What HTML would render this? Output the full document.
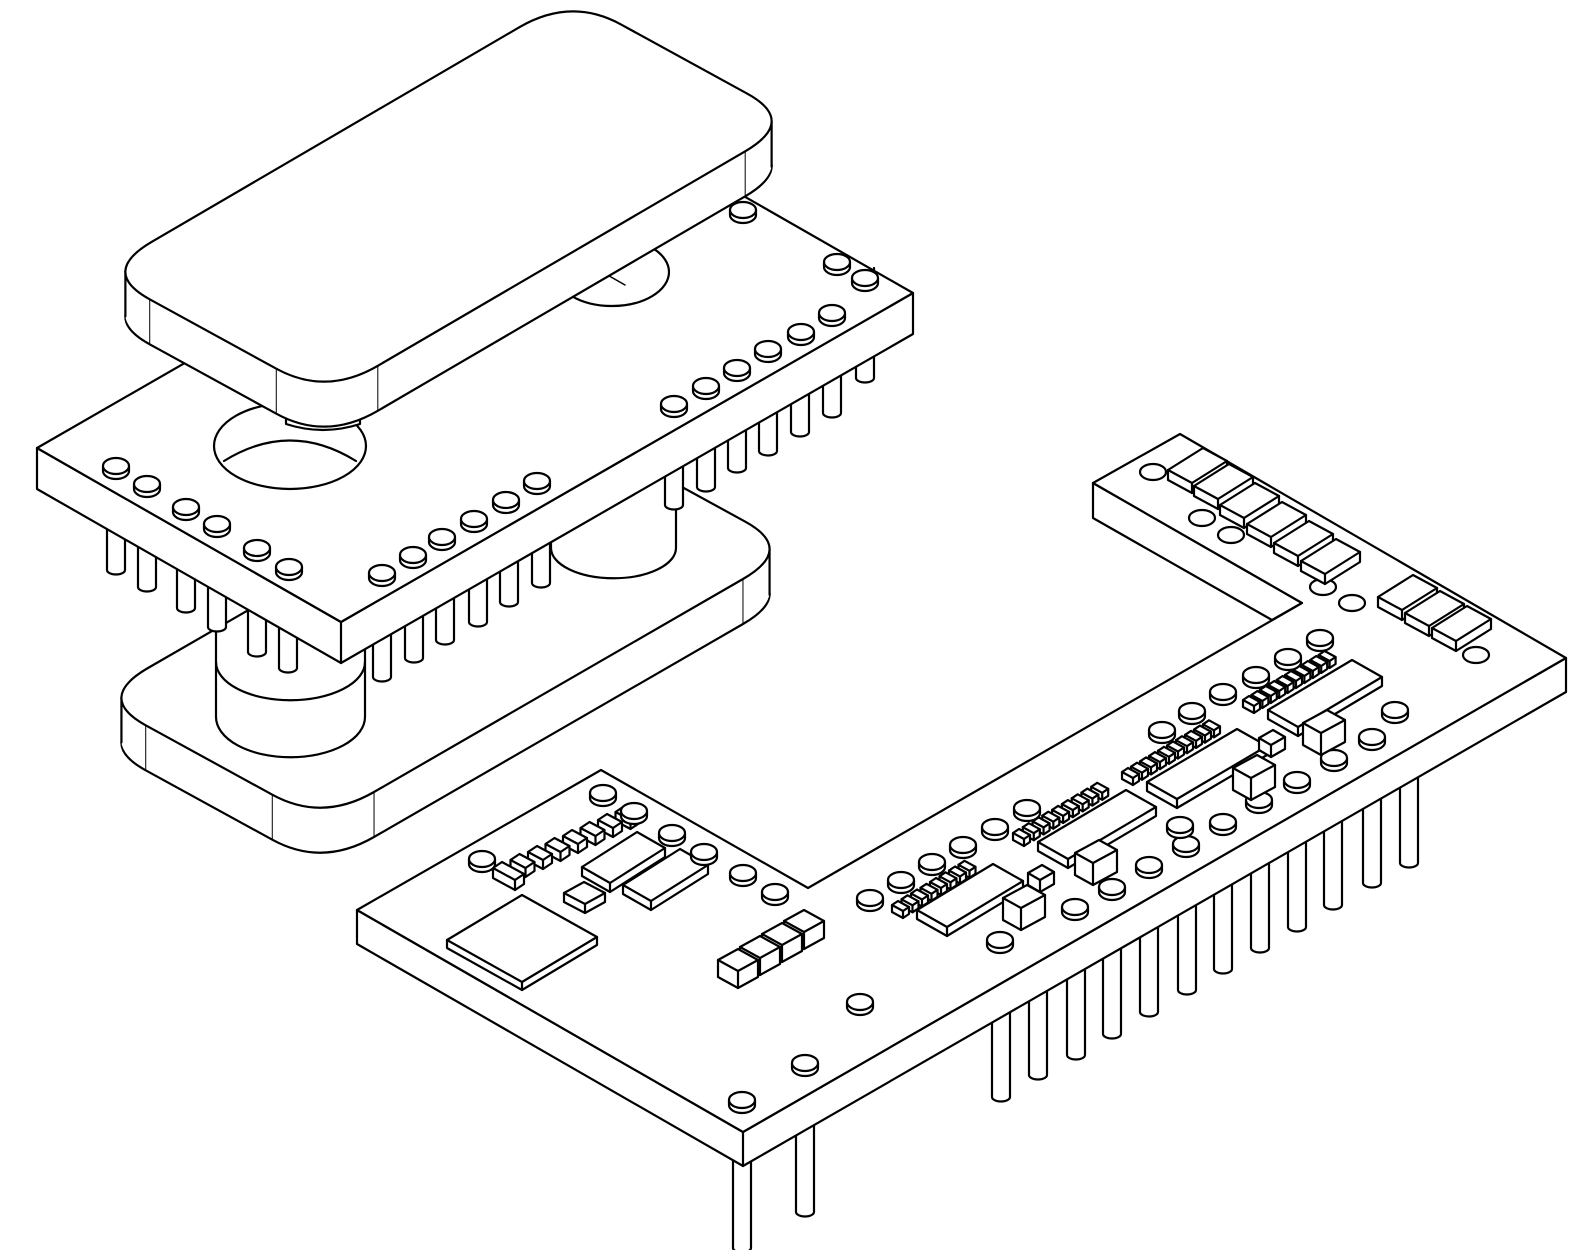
<!DOCTYPE html>
<html><head><meta charset="utf-8"><style>
html,body{margin:0;padding:0;background:#fff}
svg{display:block}
</style></head><body>
<svg id="s" width="1582" height="1250" viewBox="0 0 1582 1250" xmlns="http://www.w3.org/2000/svg" fill="#fff" stroke="#000" stroke-width="2.2" stroke-linejoin="round" stroke-linecap="round"></svg>
<script>
var S=document.getElementById('s'),out='';
function P(a){return a.map(function(p){return p[0].toFixed(1)+','+p[1].toFixed(1)}).join(' ');}
function poly(a,ex){out+='<polygon points="'+P(a)+'" '+(ex||'')+'/>';}
function line(x1,y1,x2,y2,w){out+='<line x1="'+x1+'" y1="'+y1+'" x2="'+x2+'" y2="'+y2+'"'+(w?' stroke-width="'+w+'"':'')+'/>';}
function box(x,y,ax,ay,bx,by,h){
 var Pp=[x,y],A=[x+ax,y+ay],C=[x+ax+bx,y+ay+by],B=[x+bx,y+by];
 poly([Pp,A,C,[C[0],C[1]+h],[B[0],B[1]+h],[Pp[0],Pp[1]+h]]);
 out+='<polyline fill="none" points="'+P([Pp,B,C])+'"/>';
 line(B[0],B[1],B[0],B[1]+h);
}
function pad(x,y,rx,ry,h){rx=rx||13;ry=ry||8;h=h||5;
 out+='<path d="M'+(x-rx)+','+y+' V'+(y+h)+' A'+rx+','+ry+' 0 0 0 '+(x+rx)+','+(y+h)+' V'+y+' Z"/>';
 out+='<ellipse cx="'+x+'" cy="'+y+'" rx="'+rx+'" ry="'+ry+'"/>';}
function pin(x,yb,len,w){w=w||9;
 out+='<path d="M'+(x-w)+','+(yb-len)+' V'+yb+' A'+w+','+(w*0.5)+' 0 0 0 '+(x+w)+','+yb+' V'+(yb-len)+'"/>';}
function lerp(p,q,t){return [p[0]+(q[0]-p[0])*t,p[1]+(q[1]-p[1])*t];}
function slab(L,B,R,T,h,f1,f2){
 var c=[L,T,R,B],d='',pts=[],ends=[];
 for(var i=0;i<4;i++){var p=c[i],prev=c[(i+3)%4],next=c[(i+1)%4];
  var tp=(i%2==0)?f2:f1, tn=(i%2==0)?f1:f2;
  var a=lerp(p,prev,tp),b=lerp(p,next,tn);ends.push([a,b]);
  for(var k=0;k<=40;k++){var t=k/40;pts.push([(1-t)*(1-t)*a[0]+2*t*(1-t)*p[0]+t*t*b[0],(1-t)*(1-t)*a[1]+2*t*(1-t)*p[1]+t*t*b[1]]);}
  d+=(i==0?'M':'L')+a[0].toFixed(1)+','+a[1].toFixed(1)+' Q'+p[0]+','+p[1]+' '+b[0].toFixed(1)+','+b[1].toFixed(1)+' ';}
 d+='Z';
 out+='<path d="'+d+'" transform="translate(0,'+h+')"/>';
 for(var k=h-2;k>0;k-=2)out+='<path d="'+d+'" transform="translate(0,'+k+')" stroke="none"/>';
 var mn=pts[0],mx=pts[0];pts.forEach(function(q){if(q[0]<mn[0])mn=q;if(q[0]>mx[0])mx=q;});
 line(mn[0],mn[1],mn[0],mn[1]+h);line(mx[0],mx[1],mx[0],mx[1]+h);
 var eb=ends[3];line(eb[0][0],eb[0][1],eb[0][0],eb[0][1]+h,1);line(eb[1][0],eb[1][1],eb[1][0],eb[1][1]+h,1);
 var el=ends[0];line(el[0][0],el[0][1],el[0][0],el[0][1]+h,1);
 var er=ends[2];line(er[1][0],er[1][1],er[1][0],er[1][1]+h,1);
 out+='<path d="'+d+'"/>';
}
// ---------- LOWER CAP ----------
slab([96,698],[322,822],[795,549],[569,425],45,0.11,0.22);
out+='<path d="M551,470 V548 A62,30 0 0 0 676,548 V470" />';
out+='<path d="M216,630 V717 A74,40 0 0 0 365,717 V630" />';
out+='<path d="M216,662 A74,38 0 0 0 365,662" fill="none"/>';
// ---------- UPPER PCB PINS ----------
[[116,570],[147,587],[186,608],[217,627],[257,652],[288,668],[382,677],[414,658],[445,640],[478,622],[509,602],[541,583],
 [674,505],[706,487],[737,468],[768,451],[800,432],[832,413],[865,378]].forEach(function(p){pin(p[0],p[1],110,9);});
// ---------- UPPER PCB ----------
var h=41;
poly([[37,448],[341,622],[913,293],[913,293+h],[341,622+h],[37,448+h]]);
poly([[37,448],[609,119],[913,293],[341,622]]);
line(341,622,341,622+h);
out+='<ellipse cx="612" cy="272" rx="57" ry="34"/>';
out+='<path d="M560,290 L590,265 L625,285" fill="none" stroke-width="1.5"/>';
out+='<ellipse cx="290" cy="446" rx="76" ry="43"/>';
out+='<path d="M224,461 Q290,420 356,461" fill="none"/>';
out+='<path d="M286,395 V424 Q323,436 360,424 V395" />';
[[116,466],[147,484],[186,507],[217,524],[257,548],[289,567],[382,573],[413,555],[442,537],[474,519],[506,500],[537,481],
 [674,404],[706,386],[737,368],[768,349],[801,332],[832,313],[837,262],[865,278],[743,210]].forEach(function(p){pad(p[0],p[1],13,8,5);});
// ---------- TOP CAP ----------
slab([100,272],[326,396],[797,121],[571,-3],45,0.11,0.22);
// ---------- BIG BOARD PINS ----------
[[742,1248,120],[805,1212,100],[1001,1097,100],[1038,1075,100],[1076,1055,100],[1112,1034,100],[1149,1012,100],[1187,990,100],
 [1223,969,100],[1260,948,100],[1297,927,100],[1333,905,100],[1372,883,100],[1409,863,100]].forEach(function(p){pin(p[0],p[1],p[2],9);});
// ---------- BIG BOARD ----------
var bh=34;
poly([[357,910],[743,1132],[1566,658],[1566,658+bh],[743,1132+bh],[357,910+bh]]);
line(743,1132,743,1132+bh);
poly([[1093,483],[1302,603],[1272,620],[1093,518]]);
poly([[357,910],[601,770],[808,888],[1302,603],[1093,483],[1180,434],[1566,658],[743,1132]]);
box(447,940,75,-45,75,42,8);
for(var i=7;i>=0;i--){var bx=493+i*17.5,by=868-i*8;box(bx,by,9,-6,i==0?22:15,i==0?12:8,i==0?10:9);}
box(582,867,55,-35,28,16,9);
box(623,885,57,-36,28,16,9);
box(564,893,20,-11,21,11,9);
for(var i=3;i>=0;i--){box(718+i*22,960-i*13,20,-11,20,11,17);}
[[482,859],[603,793],[634,811],[672,833],[704,852],[743,873],[775,892],[742,1100],[805,1063],[860,1002]].forEach(function(p){pad(p[0],p[1],13,8,5);});
function ic(x,y,ax,ay,n,px,py){
 for(var i=n-1;i>=0;i--)box(px+i*(ax/n),py+i*(ay/n),6,-4,11,6,7);
 box(x,y,ax,ay,30,17,9);}
ic(917,910,76,-46,8,892,905);
ic(1038,842,88,-52,9,1013,833);
ic(1147,782,90,-53,10,1122,772);
ic(1268,710,84,-50,10,1243,700);
[[870,898],[901,880],[932,862],[963,845],[995,827],[1027,808],[1075,907],[1112,887],[1149,865],[1186,844],[1180,825],
 [1223,822],[1259,800],[1297,780],[1334,758],[1372,737],[1162,730],[1192,711],[1223,692],[1256,675],[1288,657],[1320,638],
 [1000,940],[1395,710]].forEach(function(p){pad(p[0],p[1],13,8,5);});
box(1003,898,24,-13,18,10,22);
box(1075,853,24,-13,18,10,22);
box(1233,768,24,-13,18,10,22);
box(1303,723,24,-13,18,10,22);
box(1028,873,14,-8,12,7,12);
box(1259,738,14,-8,12,7,12);
[[1153,472],[1202,518],[1231,535],[1323,587],[1352,603],[1476,655]].forEach(function(p){out+='<ellipse cx="'+p[0]+'" cy="'+p[1]+'" rx="13" ry="8"/>';});
[[1168,470],[1194,486],[1220,505],[1247,524],[1274,543],[1301,561],[1378,597],[1405,613],[1432,628]].forEach(function(p){box(p[0],p[1],35,-22,24,13,10);});
S.innerHTML=out;
</script>
</body></html>
